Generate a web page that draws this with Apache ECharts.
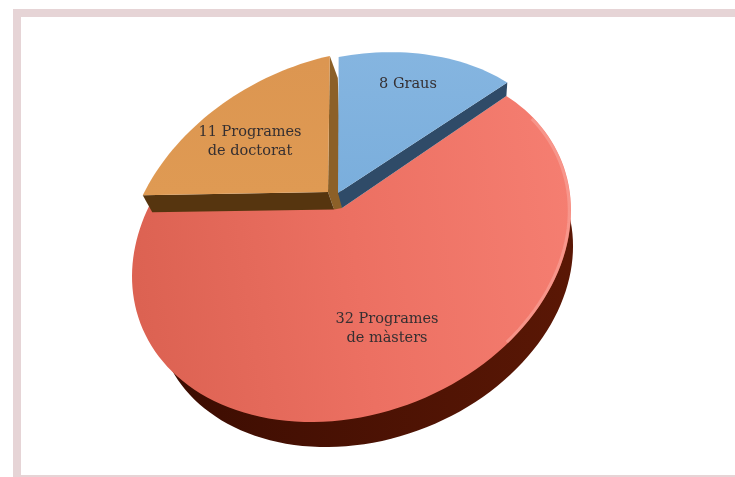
<!DOCTYPE html>
<html>
<head>
<meta charset="utf-8">
<style>
  html, body { margin: 0; padding: 0; background: #fff; }
  #chart { width: 735px; height: 477px; }
</style>
<script src="https://cdn.jsdelivr.net/npm/echarts@6/dist/echarts.min.js"></script>
</head>
<body>
<div id="chart"></div>
<script>
var labels = ['8 Graus', '11 Programes\nde doctorat', '32 Programes\nde màsters']
var values = [8, 11, 32]

// where the first slice starts on the disc, in degrees
var startAngle = 67.5

// projected disc: tilted ellipse, centre of the pie is not the centre of the ellipse
var ell = { cx: 351.5, cy: 243.5, rx: 219.5, ry: 175.4, skew: -33 }
var apex = { x: 342, y: 208 }
var base = { scale: 0.95, dx: 13, dy: 34 }

var n0x = (apex.x - ell.cx) / ell.rx
var n0y = (apex.y - ell.cy - ell.skew * n0x) / ell.ry
var beta = Math.sqrt(n0x * n0x + n0y * n0y)
var dir = [n0x / beta, n0y / beta]
var perp = [-dir[1], dir[0]]

function discPoint(deg) {
  var a = deg * Math.PI / 180
  var k = 1 + beta * Math.cos(a)
  var u = (Math.cos(a) + beta) / k
  var v = Math.sin(a) * Math.sqrt(1 - beta * beta) / k
  var nx = u * dir[0] + v * perp[0]
  var ny = u * dir[1] + v * perp[1]
  return [ell.cx + ell.rx * nx, ell.cy + ell.skew * nx + ell.ry * ny]
}

function sliceArc(from, to) {
  var pts = []
  var steps = Math.ceil(Math.abs(to - from) / 2)
  for (var i = 0; i <= steps; i++) {
    pts.push(discPoint(from + (to - from) * i / steps))
  }
  return pts
}

var total = values.reduce(function(a, b) { return a + b }, 0)
function sliceRange(i) {
  var from = startAngle
  for (var j = 0; j < i; j++) from -= values[j] / total * 360
  return [from, from - values[i] / total * 360]
}

// raised slices: moved off the red disc, rescaled and sheared a little
function lift(p, l) {
  var px = p[0] - apex.x
  var py = p[1] - apex.y
  return [apex.x + l.dx + l.sx * px + l.shx * py, apex.y + l.dy + l.sy * py + l.shy * px]
}
function shift(p, d) {
  return [p[0] + d[0], p[1] + d[1]]
}

function poly(points, fill, z2) {
  return { type: 'polygon', shape: { points: points }, style: { fill: fill }, z2: z2 }
}

function linear(x, y, x2, y2, c1, c2) {
  return { type: 'linear', x: x, y: y, x2: x2, y2: y2, global: true,
    colorStops: [{ offset: 0, color: c1 }, { offset: 1, color: c2 }] }
}

var labelPos = [[408, 84], [250, 141.5], [387, 328.5]]

function renderSlice(params, api) {
  var i = params.dataIndex
  var range = sliceRange(i)
  var arc = sliceArc(range[0], range[1])
  var top = [[apex.x, apex.y]].concat(arc)
  var kids = []
  if (i === 2) {
    var under = top.map(function(p) {
      return [ell.cx + base.dx + (p[0] - ell.cx) * base.scale, ell.cy + base.dy + (p[1] - ell.cy) * base.scale]
    })
    kids.push(poly(under, linear(180, 0, 570, 0, '#3d0d02', '#5a1705'), 1))
    kids.push({
      type: 'polygon', shape: { points: top }, z2: 2,
      style: {
        fill: {
          type: 'linear', x: 132, y: 260, x2: 571, y2: 200, global: true,
          colorStops: [
            { offset: 0, color: '#dc6252' },
            { offset: 0.5, color: '#ec7062' },
            { offset: 1, color: '#f57e71' }
          ]
        }
      }
    })
    // soft light rim on the right hand edge
    var rim = sliceArc(range[1] + 12, range[1] + 85).map(function(p) {
      return [ell.cx + (p[0] - ell.cx) * 0.992, ell.cy + (p[1] - ell.cy) * 0.992]
    })
    kids.push({
      type: 'polyline', shape: { points: rim }, z2: 2.5,
      style: { fill: null, stroke: 'rgba(250,170,160,0.55)', lineWidth: 3 }
    })
  } else if (i === 1) {
    var l = { dx: -14, dy: -16, sx: 0.96, sy: 0.985, shx: -0.02, shy: -0.026 }
    var face = top.map(function(p) { return lift(p, l) })
    var tip = face[1]
    var left = face[face.length - 1]
    var corner = shift(face[0], [6, 17.5])
    kids.push(poly([face[0], tip, shift(tip, [8, 22]), [apex.x, apex.y], corner], '#8c6028', 3))
    kids.push(poly([face[0], left, shift(left, [9.5, 17]), corner], '#56350f', 4))
    kids.push(poly(face, linear(0, 60, 0, 195, '#dc9651', '#df9a53'), 5))
  } else {
    var lb = { dx: -4, dy: -15, sx: 1.022, sy: 0.985, shx: -0.012, shy: 0 }
    var faceB = top.map(function(p) { return lift(p, lb) })
    kids.push(poly([faceB[0], faceB[1], top[1], top[0]], '#2f4b68', 6))
    kids.push(poly(faceB, linear(0, 55, 0, 195, '#85b5e0', '#7aaedc'), 7))
  }
  kids.push({
    type: 'text', z2: 20,
    x: labelPos[i][0], y: labelPos[i][1],
    style: {
      text: labels[i], fill: '#352f31', align: 'center', verticalAlign: 'middle',
      font: '14.5px "DejaVu Serif"', lineHeight: 19
    }
  })
  return { type: 'group', children: kids }
}

var chart = echarts.init(document.getElementById('chart'))
chart.setOption({
  animation: false,
  backgroundColor: '#fff',
  graphic: [{
    type: 'rect', silent: true,
    shape: { x: 17, y: 13, width: 800, height: 466 },
    style: { fill: '#fff', stroke: '#e6d4d6', lineWidth: 8 },
    z: -1
  }],
  series: [{
    type: 'custom',
    coordinateSystem: 'none',
    silent: true,
    renderItem: renderSlice,
    data: values.map(function(v) { return [v] })
  }]
})
</script>
</body>
</html>
